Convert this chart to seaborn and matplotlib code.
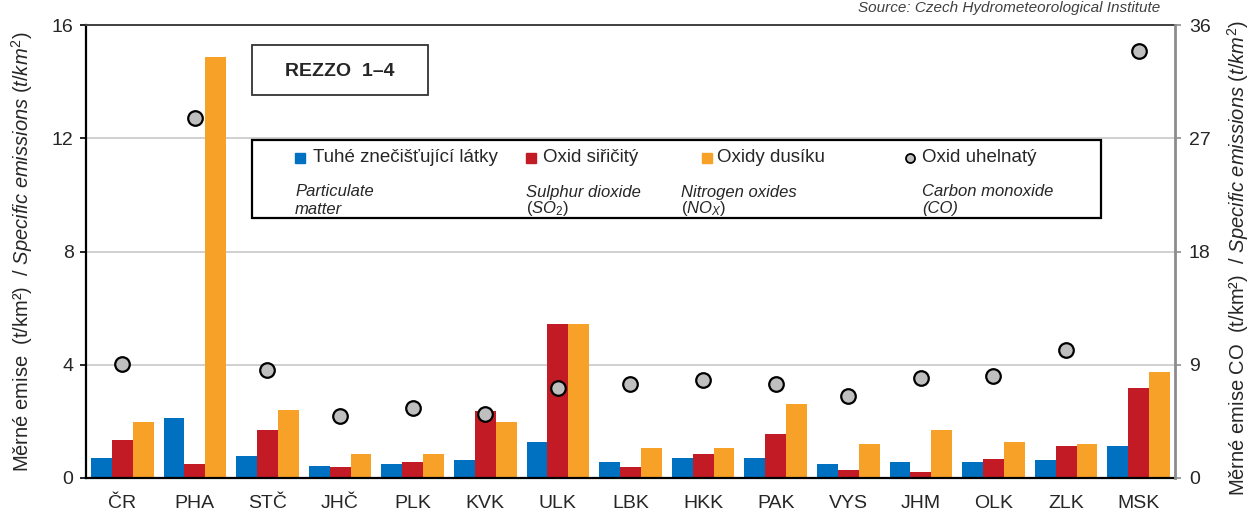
import numpy as np
import pandas as pd
import matplotlib
matplotlib.use('Agg')
import matplotlib.pyplot as plt
import seaborn as sns
from matplotlib.patches import Rectangle
from matplotlib.lines import Line2D

# --- Data ---
regions = ['ČR', 'PHA', 'STČ', 'JHČ', 'PLK', 'KVK', 'ULK', 'LBK',
           'HKK', 'PAK', 'VYS', 'JHM', 'OLK', 'ZLK', 'MSK']
particulate = [0.72, 2.12, 0.79, 0.43, 0.50, 0.65, 1.28, 0.56,
               0.72, 0.72, 0.50, 0.56, 0.56, 0.65, 1.14]
so2 = [1.35, 0.50, 1.70, 0.38, 0.57, 2.35, 5.44, 0.38,
       0.84, 1.56, 0.29, 0.21, 0.66, 1.14, 3.18]
nox = [1.97, 14.87, 2.40, 0.84, 0.84, 1.97, 5.44, 1.07,
       1.07, 2.62, 1.21, 1.70, 1.28, 1.21, 3.74]
co = [9.05, 28.6, 8.58, 4.91, 5.57, 5.09, 7.15, 7.5,
      7.81, 7.47, 6.55, 7.94, 8.10, 10.2, 33.95]

names_cz = ['Tuhé znečišťující látky', 'Oxid siřičitý', 'Oxidy dusíku', 'Oxid uhelnatý']
names_en = [('Particulate', 'matter'),
            ('Sulphur dioxide', r'$\mathit{(SO_2)}$'),
            ('Nitrogen oxides', r'$\mathit{(NO_X)}$'),
            ('Carbon monoxide', '(CO)')]
colors = ['#0070C0', '#C21B25', '#F8A128']
co_color = '#BFBFBF'

df = pd.DataFrame({
    'region': regions * 3,
    'pollutant': [names_cz[0]] * 15 + [names_cz[1]] * 15 + [names_cz[2]] * 15,
    'value': particulate + so2 + nox,
})

# --- Style ---
sns.set_style('white')
plt.rcParams['font.family'] = ['Liberation Sans', 'DejaVu Sans']
plt.rcParams['mathtext.fontset'] = 'custom'
plt.rcParams['mathtext.rm'] = 'Liberation Sans'
plt.rcParams['mathtext.it'] = 'Liberation Sans:italic'

W, H = 1252, 511
fig = plt.figure(figsize=(W / 100, H / 100), dpi=100)
ax = fig.add_axes([86 / W, 1 - 478 / H, (1175 - 86) / W, (478 - 25) / H])

def fx(x):
    return x / W

def fy(y):
    return 1 - y / H

sns.barplot(data=df, x='region', y='value', hue='pollutant', palette=colors,
            width=0.86, saturation=1, linewidth=0, legend=False, ax=ax)
ax.set_xlim(-0.5, len(regions) - 0.5)
ax.set_ylim(0, 16)
ax.set_yticks([0, 4, 8, 12, 16])
ax.set_axisbelow(True)
ax.yaxis.grid(True, color='#C8C8C8', lw=1.2)
ax.set_xlabel('')
ax.set_ylabel('')

ax.set_xticks(range(len(regions)))
ax.set_xticklabels(regions)
ax.set_xticks(np.arange(-0.5, len(regions), 1), minor=True)
ax.tick_params(axis='x', which='major', length=0, labelsize=14, pad=12)
ax.tick_params(axis='x', which='minor', length=5, width=1.2, direction='out', color='black')
ax.tick_params(axis='y', length=4, width=1.2, direction='out', labelsize=14, pad=5, color='black')

for s in ['left', 'bottom']:
    ax.spines[s].set_color('black')
    ax.spines[s].set_linewidth(1.6)
ax.spines['top'].set_color('#404040')
ax.spines['top'].set_linewidth(1.4)
ax.spines['right'].set_visible(False)

# CO on the secondary axis
ax2 = ax.twinx()
sns.scatterplot(x=np.arange(len(regions)), y=co, ax=ax2, s=110, color=co_color,
                edgecolor='black', linewidth=1.6, zorder=5, legend=False)
ax2.set_ylim(0, 36)
ax2.set_yticks([0, 9, 18, 27, 36])
ax2.tick_params(axis='y', length=4, width=1.2, direction='out', labelsize=14, pad=6,
                color='#8C8C8C')
ax2.spines['right'].set_color('#8C8C8C')
ax2.spines['right'].set_linewidth(2)
for s in ['left', 'bottom', 'top']:
    ax2.spines[s].set_visible(False)
ax2.set_xlim(-0.5, len(regions) - 0.5)

# Axis titles
fig.text(fx(22), fy(252), 'Měrné emise  (t/km²)  / $\\mathit{Specific\\ emissions\\ (t/km^2)}$',
         rotation=90, ha='center', va='center', fontsize=14.5)
fig.text(fx(1238), fy(258), 'Měrné emise CO  (t/km²)  / $\\mathit{Specific\\ emissions\\ (t/km^2)}$',
         rotation=90, ha='center', va='center', fontsize=14.5)

# Source line at the top right
fig.text(fx(1160), fy(1), 'Source: Czech Hydrometeorological Institute', ha='right', va='top',
         style='italic', fontsize=11, color='#404040')

# REZZO box
fig.add_artist(Rectangle((fx(252), fy(95)), fx(176), 50 / H, transform=fig.transFigure,
                         facecolor='white', edgecolor='#333333', lw=1.3))
fig.text(fx(340), fy(71), 'REZZO  1–4', ha='center', va='center', fontsize=14,
         fontweight='bold')

# Legend box
fig.add_artist(Rectangle((fx(252), fy(218)), fx(1101 - 252), 78 / H, transform=fig.transFigure,
                         facecolor='white', edgecolor='black', lw=1.6))
marker_x = [300, 531, 707, 910]
text_x = [313, 543, 717, 922]
en_x = [295, 526, 681, 922]
row1 = 158
for i in range(4):
    if i < 3:
        fig.add_artist(Line2D([fx(marker_x[i])], [fy(row1)], transform=fig.transFigure,
                              marker='s', markersize=6.5, color=colors[i], lw=0))
    else:
        fig.add_artist(Line2D([fx(marker_x[i])], [fy(row1)], transform=fig.transFigure,
                              marker='o', markersize=6.5, markerfacecolor=co_color,
                              markeredgecolor='black', markeredgewidth=1.3, lw=0))
    fig.text(fx(text_x[i]), fy(row1), names_cz[i], ha='left', va='center', fontsize=13.5)
    fig.text(fx(en_x[i]), fy(192), names_en[i][0], ha='left', va='center', fontsize=12,
             style='italic')
    fig.text(fx(en_x[i]), fy(209), names_en[i][1], ha='left', va='center', fontsize=12,
             style='italic')

fig.savefig('out.png', dpi=100)
